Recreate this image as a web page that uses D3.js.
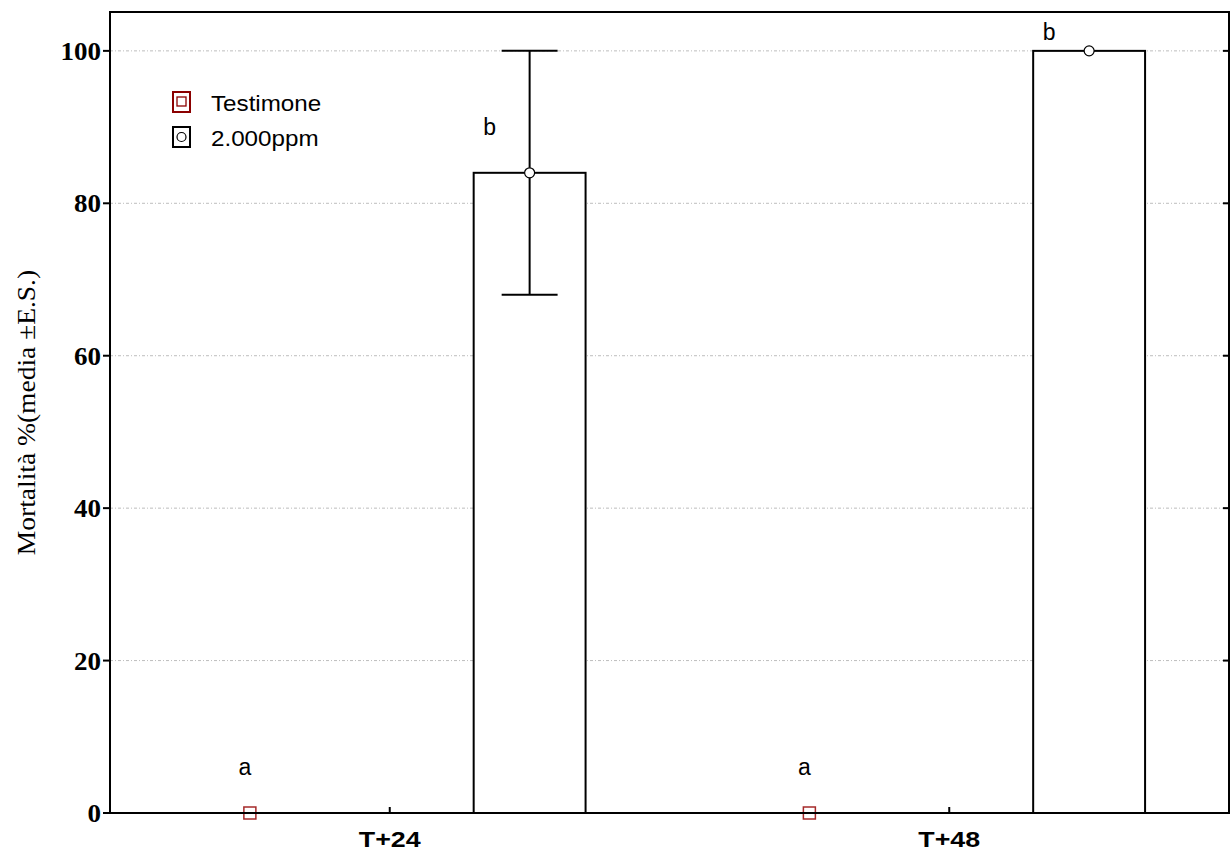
<!DOCTYPE html>
<html>
<head>
<meta charset="utf-8">
<script src="https://cdn.jsdelivr.net/npm/d3@7"></script>
<style>
  html, body { margin: 0; padding: 0; background: #fff; }
  svg { display: block; }
</style>
</head>
<body>
<div id="chart"></div>
<script>
// --- Data ---
const categories = ["T+24", "T+48"];
const seriesNames = ["Testimone", "2.000ppm"];
const means = [[0, 84], [0, 100]];      // [category][series]
const stdErr = [[0, 16], [0, 0]];
const letters = [["a", "b"], ["a", "b"]];
const letterAt = [[6, 90], [6, 102.5]]; // y value where each letter sits
const yTicks = [0, 20, 40, 60, 80, 100];

// --- Layout ---
const W = 1232, H = 854;
const margin = { top: 12, right: 3, bottom: 41, left: 110 };

const svg = d3.select("#chart").append("svg")
  .attr("width", W).attr("height", H);

const x = d3.scaleBand().domain(categories)
  .range([margin.left, W - margin.right]).padding(0);
const xs = d3.scaleBand().domain(seriesNames)
  .range([0, x.bandwidth()]).padding(0);
const y = d3.scaleLinear().domain([0, 105.1])
  .range([H - margin.bottom, margin.top]);

const x0 = margin.left, x1 = W - margin.right;
const y0 = H - margin.bottom, y1 = margin.top;

// text helper, sx stretches horizontally like the reference
function label(g, px, py, txt, opts) {
  return g.append("g").attr("transform", `translate(${px},${py}) scale(${opts.sx || 1},1)`)
    .append("text")
    .attr("text-anchor", opts.anchor || "start")
    .attr("font-family", opts.family || "Liberation Sans, Arial, sans-serif")
    .attr("font-size", opts.size || 21)
    .attr("font-weight", opts.weight || "normal")
    .attr("fill", opts.fill || "#000")
    .text(txt);
}

// --- Grid ---
svg.append("g").selectAll("line")
  .data(yTicks.filter((d) => d > 0))
  .join("line")
  .attr("x1", x0).attr("x2", x1)
  .attr("y1", (d) => y(d)).attr("y2", (d) => y(d))
  .attr("stroke", "#bdbdbd")
  .attr("stroke-width", 1)
  .attr("stroke-dasharray", "3,2,1,2");

// --- Bars ---
const flat = [];
categories.forEach((c, i) => seriesNames.forEach((s, j) => {
  flat.push({ cat: c, ser: s, j, mean: means[i][j], se: stdErr[i][j],
    letter: letters[i][j], ly: letterAt[i][j] });
}));
const cx = (d) => x(d.cat) + xs(d.ser) + xs.bandwidth() / 2;
const barW = xs.bandwidth() * 0.4;

svg.append("g").selectAll("rect")
  .data(flat.filter((d) => d.mean > 0))
  .join("rect")
  .attr("x", (d) => cx(d) - barW / 2)
  .attr("y", (d) => y(d.mean))
  .attr("width", barW)
  .attr("height", (d) => y(0) - y(d.mean))
  .attr("fill", "#fff")
  .attr("stroke", "#000")
  .attr("stroke-width", 2);

// --- Error bars ---
const capW = xs.bandwidth() * 0.2;
const eb = svg.append("g").selectAll("g")
  .data(flat.filter((d) => d.se > 0))
  .join("g")
  .attr("stroke", "#000").attr("stroke-width", 2);
eb.append("line")
  .attr("x1", cx).attr("x2", cx)
  .attr("y1", (d) => y(d.mean - d.se)).attr("y2", (d) => y(d.mean + d.se));
eb.append("line")
  .attr("x1", (d) => cx(d) - capW / 2).attr("x2", (d) => cx(d) + capW / 2)
  .attr("y1", (d) => y(d.mean + d.se)).attr("y2", (d) => y(d.mean + d.se));
eb.append("line")
  .attr("x1", (d) => cx(d) - capW / 2).attr("x2", (d) => cx(d) + capW / 2)
  .attr("y1", (d) => y(d.mean - d.se)).attr("y2", (d) => y(d.mean - d.se));

// --- Markers ---
svg.append("g").selectAll("rect")
  .data(flat.filter((d) => d.j === 0))
  .join("rect")
  .attr("x", (d) => cx(d) - 6).attr("y", (d) => y(d.mean) - 6)
  .attr("width", 12).attr("height", 12)
  .attr("fill", "#fff").attr("stroke", "#a52a2a").attr("stroke-width", 1.5);
svg.append("g").selectAll("circle")
  .data(flat.filter((d) => d.j === 1))
  .join("circle")
  .attr("cx", cx).attr("cy", (d) => y(d.mean)).attr("r", 5)
  .attr("fill", "#fff").attr("stroke", "#000").attr("stroke-width", 1.2);

// --- Significance letters ---
const lg = svg.append("g");
flat.forEach((d) => {
  const dx = d.j === 0 ? -5 : -40;
  label(lg, cx(d) + dx, y(d.ly) + 8, d.letter, { anchor: "middle", size: 23 });
});

// --- Frame & axes ---
svg.append("rect")
  .attr("x", x0).attr("y", y1)
  .attr("width", x1 - x0).attr("height", y0 - y1)
  .attr("fill", "none").attr("stroke", "#000").attr("stroke-width", 2);

const yt = svg.append("g");
yt.selectAll("line.l").data(yTicks).join("line").attr("class", "l")
  .attr("x1", x0 - 7).attr("x2", x0)
  .attr("y1", (d) => y(d)).attr("y2", (d) => y(d))
  .attr("stroke", "#000").attr("stroke-width", 2);
yt.selectAll("line.r").data(yTicks).join("line").attr("class", "r")
  .attr("x1", x1 - 6).attr("x2", x1)
  .attr("y1", (d) => y(d)).attr("y2", (d) => y(d))
  .attr("stroke", "#000").attr("stroke-width", 2);
yTicks.forEach((d) => {
  label(yt, x0 - 9, y(d) + 9, d, { anchor: "end", size: 25, weight: "bold",
    family: "Liberation Serif, Times New Roman, serif", sx: 1.08 });
});

const xt = svg.append("g");
xt.selectAll("line").data(categories).join("line")
  .attr("x1", (d) => x(d) + x.bandwidth() / 2).attr("x2", (d) => x(d) + x.bandwidth() / 2)
  .attr("y1", y0 - 6).attr("y2", y0)
  .attr("stroke", "#000").attr("stroke-width", 2);
categories.forEach((c) => {
  label(xt, x(c) + x.bandwidth() / 2, y0 + 34, c, { anchor: "middle", size: 22, weight: "bold", sx: 1.22 });
});

// Y title
svg.append("text")
  .attr("transform", `translate(35,${(y0 + y1) / 2}) rotate(-90) scale(1.1,1)`)
  .attr("text-anchor", "middle")
  .attr("font-family", "Liberation Serif, Times New Roman, serif")
  .attr("font-size", 25)
  .text("Mortalità %(media ±E.S.)");

// --- Legend ---
const legend = svg.append("g");
const legColors = ["#8b0000", "#000"];
seriesNames.forEach((s, j) => {
  const ly = 92 + j * 35;
  legend.append("rect")
    .attr("x", 173).attr("y", ly).attr("width", 17).attr("height", 20)
    .attr("fill", "#fff").attr("stroke", legColors[j]).attr("stroke-width", 2);
  if (j === 0) {
    legend.append("rect").attr("x", 177).attr("y", ly + 5).attr("width", 9).attr("height", 9)
      .attr("fill", "#fff").attr("stroke", "#8b0000").attr("stroke-width", 1.3);
  } else {
    legend.append("circle").attr("cx", 181.5).attr("cy", ly + 10).attr("r", 4.5)
      .attr("fill", "#fff").attr("stroke", "#000").attr("stroke-width", 1.2);
  }
  label(legend, 211, ly + 19, s, { size: 22, sx: 1.1 });
});
</script>
</body>
</html>
